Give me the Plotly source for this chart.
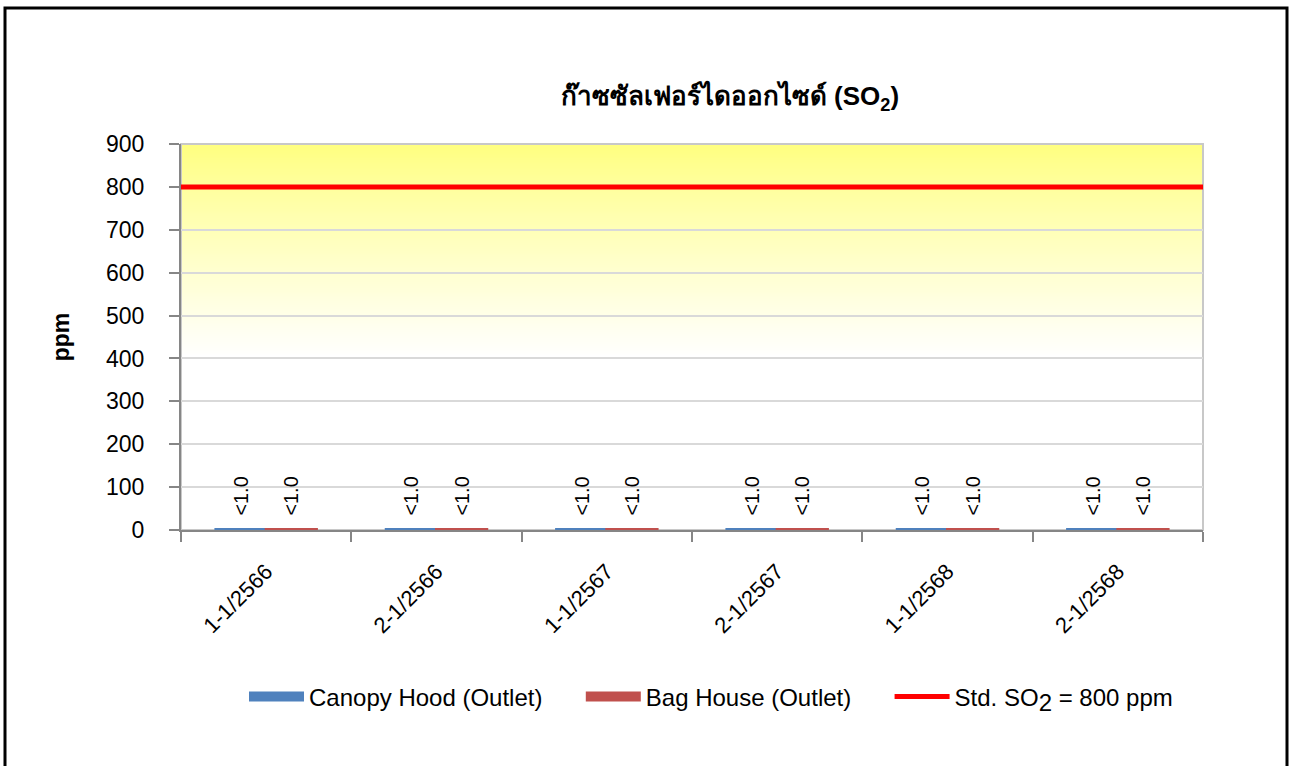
import base64, struct, zlib
import plotly.graph_objects as go

categories = ["1-1/2566", "2-1/2566", "1-1/2567", "2-1/2567", "1-1/2568", "2-1/2568"]
canopy_values = [1.0, 1.0, 1.0, 1.0, 1.0, 1.0]
baghouse_values = [1.0, 1.0, 1.0, 1.0, 1.0, 1.0]
canopy_labels = ["<1.0"] * 6
baghouse_labels = ["<1.0"] * 6
std_value = 800
y_ticks = [0, 100, 200, 300, 400, 500, 600, 700, 800, 900]

W, H = 1293, 766
L, R, T, B = 181, 1203, 144, 530
BLUE, RED_BAR, RED_LINE = "#4F81BD", "#C0504D", "#FF0000"


def gradient_png(n=200):
    rows = []
    for i in range(n):
        t = i / (n - 1)  # 0 at top (900), 1 at bottom (0)
        f = min(1.0, t / 0.55)
        b = int(round(128 + (255 - 128) * (f ** 0.9)))
        rows.append(b"\x00" + bytes([255, 255, b]))
    raw = b"".join(rows)

    def chunk(tag, data):
        c = struct.pack(">I", len(data)) + tag + data
        return c + struct.pack(">I", zlib.crc32(tag + data) & 0xFFFFFFFF)

    png = b"\x89PNG\r\n\x1a\n"
    png += chunk(b"IHDR", struct.pack(">IIBBBBB", 1, n, 8, 2, 0, 0, 0))
    png += chunk(b"IDAT", zlib.compress(raw, 9))
    png += chunk(b"IEND", b"")
    return "data:image/png;base64," + base64.b64encode(png).decode()


font = "Liberation Sans, Arial, sans-serif"
pad = "\u00a0\u00a0"
gap = "\u00a0" * 5

fig = go.Figure()
fig.add_trace(go.Bar(
    x=categories, y=canopy_values, name="Canopy Hood (Outlet)", showlegend=False,
    marker=dict(color=BLUE, line=dict(color=BLUE, width=3)),
    text=[pad + s for s in canopy_labels], textposition="outside", textangle=-90,
    textfont=dict(family=font, size=20, color="black"), cliponaxis=False,
))
fig.add_trace(go.Bar(
    x=categories, y=baghouse_values, name="Bag House (Outlet)", showlegend=False,
    marker=dict(color=RED_BAR, line=dict(color=RED_BAR, width=3)),
    text=[pad + s for s in baghouse_labels], textposition="outside", textangle=-90,
    textfont=dict(family=font, size=20, color="black"), cliponaxis=False,
))
# legend swatches for the bar series
fig.add_trace(go.Scatter(x=[None], y=[None], xaxis="x2", mode="lines",
                         name="Canopy Hood (Outlet)" + gap, line=dict(color=BLUE, width=25)))
fig.add_trace(go.Scatter(x=[None], y=[None], xaxis="x2", mode="lines",
                         name="Bag House (Outlet)" + gap, line=dict(color=RED_BAR, width=25)))
fig.add_trace(go.Scatter(
    x=[0, 1], y=[std_value, std_value], xaxis="x2", mode="lines",
    name="Std. SO<sub><span style='font-size:24px'>2</span></sub> = 800 ppm",
    line=dict(color=RED_LINE, width=5),
))

px_w = R - L
px_h = B - T

fig.update_layout(
    width=W, height=H,
    margin=dict(l=L, r=W - R, t=T, b=H - B, autoexpand=False),
    paper_bgcolor="white", plot_bgcolor="rgba(0,0,0,0)",
    barmode="group", bargap=0.41, bargroupgap=0,
    font=dict(family=font, size=21, color="black"),
    title=dict(text="<b>ก๊าซซัลเฟอร์ไดออกไซด์ (SO<sub>2</sub>)</b>",
               x=730 / W, xanchor="center", y=1 - 96 / H, yanchor="middle",
               font=dict(family=font, size=26, color="black")),
    xaxis=dict(type="category", tickson="boundaries", ticks="outside", ticklen=10,
               tickcolor="#868686", tickwidth=2, tickangle=-45,
               ticklabelstandoff=18,
               showline=True, linecolor="#868686", linewidth=2,
               showgrid=False, tickfont=dict(family=font, size=22)),
    xaxis2=dict(overlaying="x", range=[0, 1], visible=False),
    yaxis=dict(range=[0, 900], tickvals=y_ticks, ticks="outside", ticklen=10,
               tickcolor="#868686", tickwidth=2, ticklabelstandoff=20,
               showline=True, linecolor="#868686", linewidth=2,
               showgrid=True, gridcolor="#D9D9D9", gridwidth=2, zeroline=False,
               tickfont=dict(family=font, size=23),
               title=dict(text="<b>ppm</b>", standoff=30,
                          font=dict(family=font, size=23))),
    legend=dict(orientation="h", x=(711 - L) / px_w, xanchor="center",
                y=(B - 697) / px_h, yanchor="middle",
                font=dict(family=font, size=24), itemwidth=55,
                traceorder="normal", bgcolor="rgba(0,0,0,0)"),
    images=[dict(source=gradient_png(), xref="paper", yref="y", x=0, y=900,
                 sizex=1, sizey=900, sizing="stretch", layer="below")],
    shapes=[
        dict(type="rect", xref="paper", yref="paper", x0=0, x1=1, y0=0, y1=1,
             line=dict(color="#C8C8C8", width=2), layer="below"),
        dict(type="rect", xref="paper", yref="paper",
             x0=(5 - L) / px_w, x1=(1287 - L) / px_w,
             y0=(B - 800) / px_h, y1=(B - 8) / px_h,
             line=dict(color="black", width=3)),
    ],
)

fig.write_html("out.html", config={"displayModeBar": False},
               post_script="document.body.style.margin='0';document.body.style.overflow='hidden';")
